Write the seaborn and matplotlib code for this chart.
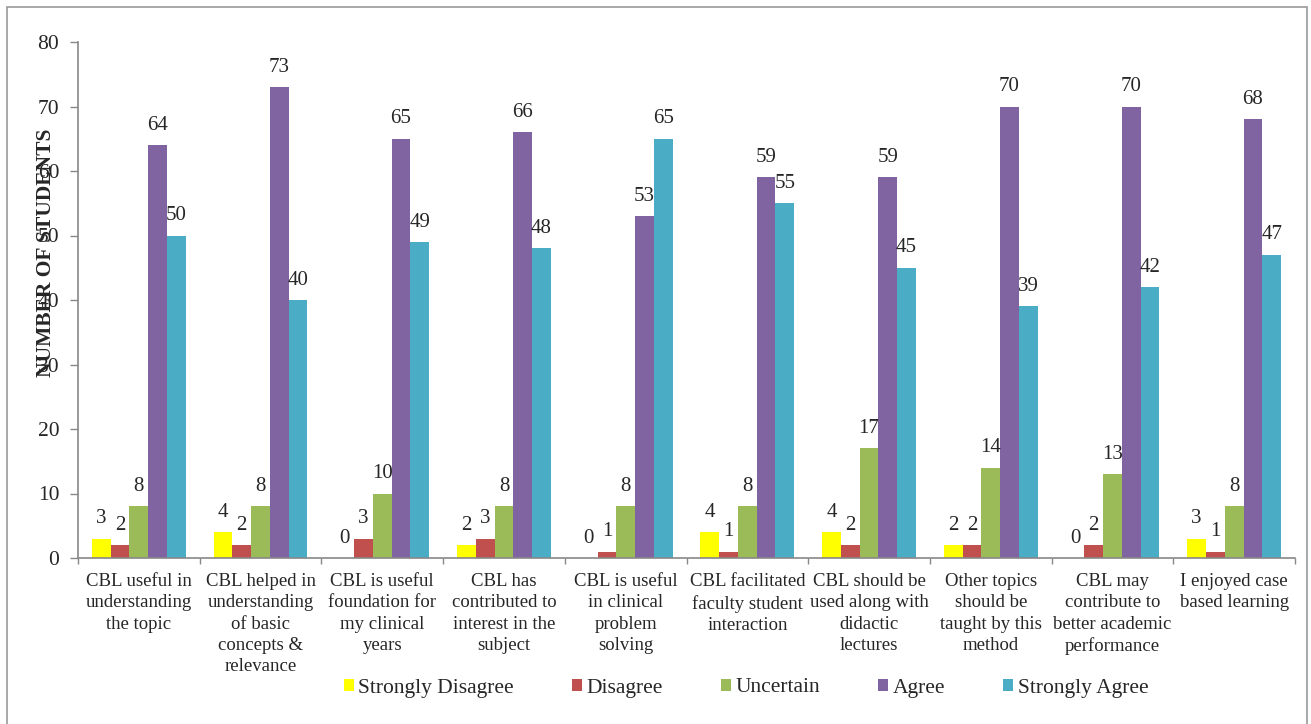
import matplotlib
matplotlib.use("Agg")
import matplotlib.pyplot as plt
import seaborn as sns
import pandas as pd
import numpy as np
from matplotlib.patches import Rectangle

categories = [
    "CBL useful in\nunderstanding\nthe topic",
    "CBL helped in\nunderstanding\nof basic\nconcepts &\nrelevance",
    "CBL is useful\nfoundation for\nmy clinical\nyears",
    "CBL has\ncontributed to\ninterest in the\nsubject",
    "CBL is useful\nin clinical\nproblem\nsolving",
    "CBL facilitated\nfaculty student\ninteraction",
    "CBL should be\nused along with\ndidactic\nlectures",
    "Other topics\nshould be\ntaught by this\nmethod",
    "CBL may\ncontribute to\nbetter academic\nperformance",
    "I enjoyed case\nbased learning",
]
series_names = ["Strongly Disagree", "Disagree", "Uncertain", "Agree", "Strongly Agree"]
strongly_disagree = [3, 4, 0, 2, 0, 4, 4, 2, 0, 3]
disagree = [2, 2, 3, 3, 1, 1, 2, 2, 2, 1]
uncertain = [8, 8, 10, 8, 8, 8, 17, 14, 13, 8]
agree = [64, 73, 65, 66, 53, 59, 59, 70, 70, 68]
strongly_agree = [50, 40, 49, 48, 65, 55, 45, 39, 42, 47]
colors = ["#FFFF00", "#C0504D", "#9BBB59", "#8064A2", "#4BACC6"]

sns.set_style("white")
plt.rcParams["font.family"] = ["Liberation Serif", "DejaVu Serif"]

values = [strongly_disagree, disagree, uncertain, agree, strongly_agree]
rows = []
for name, vals in zip(series_names, values):
    for c, v in zip(categories, vals):
        rows.append({"Category": c, "Response": name, "Count": v})
df = pd.DataFrame(rows)

W, H = 1311, 724
fig = plt.figure(figsize=(W / 100, H / 100), dpi=100)
ax = fig.add_axes([78 / W, 1 - 558 / H, (1295 - 78) / W, (558 - 42) / H])

sns.barplot(data=df, x="Category", y="Count", hue="Response", order=categories,
            hue_order=series_names, palette=colors, width=0.77, linewidth=0,
            saturation=1, ax=ax, legend=True)

for cont in ax.containers:
    ax.bar_label(cont, fmt="%d", padding=7.5, fontsize=15)

ax.set_ylim(0, 80)
ax.set_xlim(-0.5, len(categories) - 0.5)
ax.set_yticks(np.arange(0, 81, 10))
ax.tick_params(axis="y", labelsize=15.5, length=6, width=1, color="#888888",
               direction="out", left=True, pad=7.5)

ax.set_xticks(np.arange(len(categories)))
ax.set_xticklabels(categories, fontsize=13.5, linespacing=1.32)
ax.tick_params(axis="x", which="major", length=0, pad=11)
ax.set_xticks(np.arange(-0.5, len(categories), 1.0), minor=True)
ax.tick_params(axis="x", which="minor", length=4, width=1, color="#888888",
               direction="out", bottom=True)

for s in ["top", "right"]:
    ax.spines[s].set_visible(False)
for s in ["left", "bottom"]:
    ax.spines[s].set_color("#888888")
    ax.spines[s].set_linewidth(1.2)

ax.set_xlabel("")
ax.set_ylabel("NUMBER OF STUDENTS", fontsize=15.5, fontweight="bold")
ax.yaxis.set_label_coords((56 - 78) / (1295 - 78), (558 - 253) / 516)

leg = ax.legend(loc="center", bbox_to_anchor=(746 / W, 1 - 688 / H),
                bbox_transform=fig.transFigure, ncol=5, frameon=False,
                fontsize=15.5, handlelength=0.47, handleheight=0.47,
                handletextpad=0.2, columnspacing=2.7)

fig.patches.append(Rectangle((7 / W, -0.01), 1300 / W, (H - 7) / H + 0.01,
                             transform=fig.transFigure, fill=False,
                             edgecolor="#999999", linewidth=1.2))

fig.savefig("out.png", dpi=100)
